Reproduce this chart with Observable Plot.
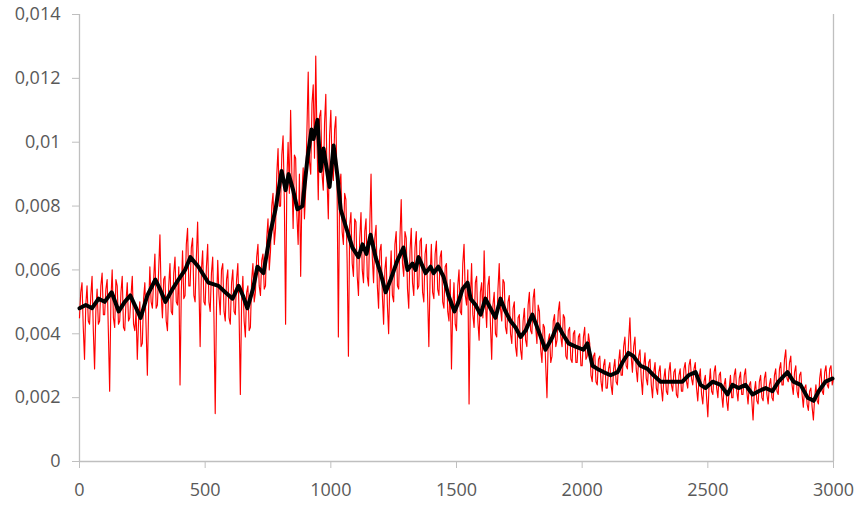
<!DOCTYPE html>
<html>
<head>
<meta charset="utf-8">
<script src="https://cdn.jsdelivr.net/npm/d3@7"></script>
<script src="https://cdn.jsdelivr.net/npm/@observablehq/plot@0.6"></script>
<style>
  html, body { margin: 0; padding: 0; background: #fff; }
  #chart svg { display: block; }
</style>
</head>
<body>
<div id="chart"></div>
<script>
// Raw series (red), sampled every 5 units on x, values in units of 1e-4
const redStart = 0;
const redStep = 5;
const redValuesE4 = [
  45,53,56,42,32,49,55,44,43,52,58,41,29,47,54,43,44,55,59,46,
  46,54,57,40,22,51,60,45,42,57,55,43,44,53,58,42,41,50,56,44,
  45,52,58,43,41,47,32,44,50,36,37,51,56,42,27,48,61,50,48,57,
  65,48,49,60,71,52,45,57,58,44,41,55,62,47,46,59,64,50,49,61,
  24,53,66,51,52,68,73,55,55,67,70,52,50,64,75,56,36,60,66,50,
  49,61,68,50,47,59,64,45,15,48,63,52,46,60,62,47,44,57,60,45,
  43,56,60,47,46,57,62,46,21,50,58,44,39,53,55,41,42,57,62,50,
  53,64,68,55,52,63,65,54,55,70,76,60,66,80,84,68,73,90,98,80,
  80,96,102,82,43,88,100,84,110,90,73,96,95,77,68,90,58,84,92,76,
  85,104,122,94,90,112,118,95,127,100,82,108,110,90,85,106,115,88,76,102,
  110,92,88,104,108,84,39,86,90,72,68,84,82,62,33,74,78,62,58,76,
  75,58,52,70,78,60,56,72,76,58,55,74,90,64,56,70,74,55,48,66,
  68,52,43,60,64,49,40,57,66,52,50,68,72,55,54,70,82,62,58,72,
  70,54,48,66,73,56,52,67,72,54,55,69,70,53,50,65,68,52,36,58,
  68,53,51,65,69,54,52,64,66,50,48,61,62,47,44,57,29,48,56,43,
  41,55,60,47,46,62,68,52,49,60,18,50,62,46,42,56,58,44,38,53,
  56,45,66,50,42,55,58,43,32,49,53,40,39,54,62,48,44,57,56,42,
  40,50,52,40,37,48,50,36,33,45,46,35,32,44,48,38,36,49,53,41,
  40,51,54,42,37,49,47,35,31,43,42,30,20,38,40,31,33,44,46,36,
  38,47,50,39,36,46,45,33,32,41,42,32,31,40,41,31,31,39,40,30,
  30,39,42,32,33,40,37,27,25,33,34,25,24,32,33,25,22,30,32,23,
  23,29,31,24,21,29,32,25,24,31,35,27,27,36,39,30,29,38,45,33,
  28,36,39,29,25,33,35,26,21,30,34,26,24,31,32,24,20,28,31,23,
  21,28,30,23,19,26,29,22,21,28,31,24,22,28,29,21,20,27,29,22,
  22,29,31,25,23,30,32,26,24,29,31,23,19,26,29,21,18,25,27,20,
  14,24,29,22,21,28,30,23,20,27,28,21,17,24,26,19,16,23,27,20,
  20,27,29,22,19,26,28,21,21,27,29,22,18,24,25,19,13,22,25,19,
  18,25,27,20,19,26,28,21,18,24,26,20,19,27,29,22,21,29,31,24,
  24,32,35,26,25,31,33,24,21,28,30,22,20,27,28,21,17,23,24,18,
  16,22,23,17,13,20,24,19,18,26,29,22,21,28,30,24,23,29,30,24,
  26
];

// Smoothed series (black)
const blackX = [0,25,50,76,100,128,156,180,202,220,243,270,302,320,342,370,394,420,441,473,
  513,553,580,609,633,650,668,690,708,732,760,780,804,820,832,850,867,887,907,923,
  931,947,959,971,995,1011,1027,1039,1058,1086,1110,1126,1142,1158,1178,1198,1218,1238,1265,1289,
  1305,1325,1337,1349,1377,1397,1409,1428,1448,1468,1492,1508,1524,1544,1556,1576,1596,1615,1635,1655,
  1675,1695,1715,1735,1755,1775,1802,1826,1854,1882,1902,1922,1946,1974,2005,2021,2041,2061,2085,2113,
  2141,2160,2184,2204,2232,2260,2284,2312,2344,2372,2399,2423,2451,2471,2491,2519,2551,2578,2598,2622,
  2650,2678,2702,2730,2757,2781,2817,2841,2869,2897,2921,2941,2968,2996];
const blackY = [0.0048,0.0049,0.0048,0.0051,0.0050,0.0053,0.0047,0.0050,0.0052,0.0049,0.0045,0.0052,0.0057,0.0054,0.0050,0.0054,0.0057,0.0060,0.0064,0.0061,
  0.0056,0.0055,0.0053,0.0051,0.0055,0.0052,0.0048,0.0054,0.0061,0.0059,0.0072,0.0079,0.0091,0.0085,0.0090,0.0085,0.0079,0.0080,0.0095,0.0104,
  0.0101,0.0107,0.0091,0.0098,0.0086,0.0099,0.0089,0.0079,0.0074,0.0067,0.0064,0.0068,0.0065,0.0071,0.0064,0.0059,0.0053,0.0057,0.0063,0.0067,
  0.0060,0.0062,0.0060,0.0064,0.0059,0.0061,0.0059,0.0061,0.0058,0.0052,0.0047,0.0050,0.0054,0.0056,0.0051,0.0049,0.0046,0.0051,0.0048,0.0045,
  0.0051,0.0047,0.0044,0.0042,0.0039,0.0041,0.0046,0.0041,0.0035,0.0039,0.0043,0.0040,0.0037,0.0036,0.0035,0.0037,0.0030,0.0029,0.0028,0.0027,
  0.0028,0.0031,0.0034,0.0033,0.0030,0.0029,0.0027,0.0025,0.0025,0.0025,0.0025,0.0027,0.0028,0.0024,0.0023,0.0025,0.0024,0.0021,0.0024,0.0023,
  0.0024,0.0021,0.0022,0.0023,0.0022,0.0025,0.0028,0.0025,0.0024,0.0020,0.0019,0.0022,0.0025,0.0026];

const xTicks = [0,500,1000,1500,2000,2500,3000];
const yTicks = [0,0.002,0.004,0.006,0.008,0.01,0.012,0.014];

const red = redValuesE4.map((v, i) => ({x: redStart + i * redStep, y: v * 1e-4}));
const black = blackX.map((x, i) => ({x, y: blackY[i]}));

const fmt = d => d === 0 ? "0" : String(+d.toFixed(3)).replace(".", ",");
const axisColor = "#bfbfbf";
const textColor = "#595959";

const chart = Plot.plot({
  width: 863,
  height: 508,
  marginLeft: 79,
  marginRight: 30,
  marginTop: 14,
  marginBottom: 47,
  style: {fontFamily: "'Open Sans', sans-serif", fontSize: "18px", background: "#fff"},
  x: {domain: [0, 3000]},
  y: {domain: [0, 0.014]},
  marks: [
    Plot.ruleX([0, 3000], {stroke: axisColor, strokeWidth: 1.3}),
    Plot.ruleY([0], {stroke: axisColor, strokeWidth: 1.3}),
    Plot.axisY({ticks: yTicks, tickFormat: fmt, tickSize: 7, tickPadding: 12, stroke: axisColor, color: textColor, fontSize: 18, label: null}),
    Plot.axisX({ticks: xTicks, tickFormat: d => String(d), tickSize: 7, tickPadding: 15, stroke: axisColor, color: textColor, fontSize: 18, label: null}),
    Plot.line(red, {x: "x", y: "y", stroke: "#ff0000", strokeWidth: 1.15}),
    Plot.line(black, {x: "x", y: "y", stroke: "#000", strokeWidth: 4, strokeLinejoin: "round"})
  ]
});
document.getElementById("chart").appendChild(chart);
</script>
</body>
</html>
